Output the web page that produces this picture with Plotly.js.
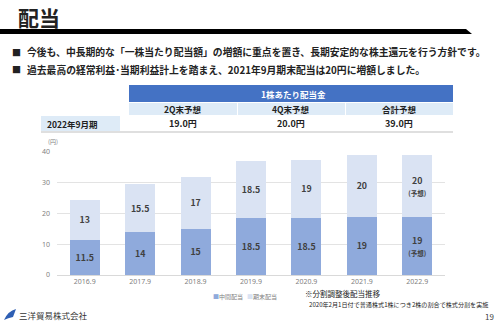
<!DOCTYPE html>
<html><head><meta charset="utf-8">
<script src="https://cdn.plot.ly/plotly-3.0.1.min.js"></script>
<style>html,body{margin:0;padding:0;background:#fff}#chart{width:500px;height:324px}</style>
</head><body><div id="chart"></div>
<script>
const categories = ['2016.9','2017.9','2018.9','2019.9','2020.9','2021.9','2022.9'];
const interim = [11.5,14,15,18.5,18.5,19,19];
const yearEnd = [13,15.5,17,18.5,19,20,20];
const interimLabels = ['11.5','14','15','18.5','18.5','19','19<br><span style="font-size:6.5px">(予想)</span>'];
const yearEndLabels = ['13','15.5','17','18.5','19','20','20<br><span style="font-size:6.5px">(予想)</span>'];
const seriesNames = ['中間配当','期末配当'];
const yTicks = [0,10,20,30,40];
const tableHeader = '1株あたり配当金';
const tableCols = ['2Q末予想','4Q末予想','合計予想'];
const tableRowLabel = '2022年9月期';
const tableRow = ['19.0円','20.0円','39.0円'];
const bullets = ['今後も、中長期的な「一株当たり配当額」の増額に重点を置き、長期安定的な株主還元を行う方針です。',
                 '過去最高の経常利益･当期利益計上を踏まえ、2021年9月期末配当は20円に増額しました。'];

const W=500,H=324;
const px=x=>x/W, py=y=>1-y/H;
const JP='"Noto Sans CJK JP", "Noto Sans", sans-serif';
const C1='#8faadc', C2='#dae3f3';

const tf={family:JP,size:8.8,color:'#404040',weight:'bold'};
const traces=[
 {type:'bar',x:categories,y:interim,name:seriesNames[0],marker:{color:C1},text:interimLabels,
  textposition:'inside',insidetextanchor:'middle',textangle:0,textfont:tf,hoverinfo:'skip',constraintext:'none'},
 {type:'bar',x:categories,y:yearEnd,name:seriesNames[1],marker:{color:C2},text:yearEndLabels,
  textposition:'inside',insidetextanchor:'middle',textangle:0,textfont:tf,hoverinfo:'skip',constraintext:'none'}
];

const shapes=[];
const ann=[];
function rect(x0,y0,x1,y1,color){shapes.push({type:'rect',xref:'paper',yref:'paper',x0:px(x0),x1:px(x1),y0:py(y1),y1:py(y0),fillcolor:color,line:{width:0},layer:'below'});}
function line(x0,y0,x1,y1,color,w){shapes.push({type:'line',xref:'paper',yref:'paper',x0:px(x0),x1:px(x1),y0:py(y0),y1:py(y1),line:{color:color,width:w}});}
function text(t,x,y,o){ann.push(Object.assign({text:t,xref:'paper',yref:'paper',x:px(x),y:py(y),showarrow:false,xanchor:'left',yanchor:'middle',
  font:{family:JP,size:9,color:'#222'}},o||{}));}

// Title and rule
text('配当',17,1,{yanchor:'top',borderpad:0,font:{family:JP,size:21,color:'#222',weight:'bold'}});
shapes.push({type:'path',xref:'paper',yref:'paper',
  path:`M ${px(0)} ${py(29)} L ${px(466)} ${py(29)} L ${px(472)} ${py(34)} L ${px(0)} ${py(34)} Z`,
  fillcolor:'#000',line:{width:0}});

// Bullets
bullets.forEach((b,i)=>{
  const y=52+i*18;
  text('■',10,y,{font:{family:JP,size:9,color:'#222'}});
  text(b,25,y,{font:{family:JP,size:9.8,color:'#222',weight:'bold'}});
});

// Table
rect(129,85,453,102,'#4472c4');
text(tableHeader,259,94,{font:{family:JP,size:8.5,color:'#fff',weight:'bold'}});
const colX=[129,237,345,453];
for(let i=0;i<3;i++){
  rect(colX[i]+(i?1:0),103,colX[i+1],115,'#deebf7');
  text(tableCols[i],(colX[i]+colX[i+1])/2,109,{xanchor:'center',font:{family:JP,size:8.5,color:'#222',weight:'bold'}});
  text(tableRow[i],(colX[i]+colX[i+1])/2,124,{xanchor:'center',font:{family:JP,size:9,color:'#222',weight:'bold'}});
}
rect(41,116,120,131,'#deebf7');
text(tableRowLabel,45,124,{font:{family:JP,size:8.5,color:'#222',weight:'bold'}});
line(41,132,453,132,'#bfbfbf',1.2);

// unit
text('(円)',46,142,{font:{family:JP,size:6,color:'#7f7f7f'}});

// legend
text('<span style="color:'+C1+'">■</span>'+seriesNames[0],211,296,{font:{family:JP,size:6,color:'#7f7f7f'}});
text('<span style="color:'+C2+'">■</span>'+seriesNames[1],245,296,{font:{family:JP,size:6,color:'#7f7f7f'}});

// notes
text('※分割調整後配当推移',303,293,{font:{family:JP,size:7.5,color:'#222'}});
text('2020年2月1日付で普通株式1株につき2株の割合で株式分割を実施',307,304,{font:{family:JP,size:6.1,color:'#222'}});
text('19',496,316,{xanchor:'right',font:{family:JP,size:8,color:'#404040'}});

// logo
shapes.push({type:'path',xref:'paper',yref:'paper',
  path:`M ${px(4)} ${py(320)} Q ${px(8)} ${py(311)} ${px(16)} ${py(309)} L ${px(13)} ${py(317)} Q ${px(8)} ${py(318)} ${px(4)} ${py(320)} Z`,
  fillcolor:'#2f5fb3',line:{width:0}});
text('三洋貿易株式会社',17,315,{font:{family:JP,size:8.5,color:'#333'}});

const layout={
 width:W,height:H,margin:{l:0,r:0,t:0,b:0},paper_bgcolor:'#fff',plot_bgcolor:'#fff',
 barmode:'stack',bargap:0.46,showlegend:false,
 xaxis:{domain:[57/W,445/W],type:'category',tickfont:{family:'"Noto Sans", sans-serif',size:7,color:'#7f7f7f'},
   showgrid:false,showline:true,linecolor:'#d9d9d9',ticks:'',fixedrange:true},
 yaxis:{domain:[(H-275)/H,(H-152)/H],range:[0,40],tickvals:yTicks,ticks:'',showline:false,zeroline:false,
   gridcolor:'#e3e3e3',tickfont:{family:'"Noto Sans", sans-serif',size:7,color:'#7f7f7f'},ticklabelstandoff:6},
 shapes:shapes,annotations:ann,
 uniformtext:{mode:false}
};
Plotly.newPlot('chart',traces,layout,{staticPlot:true});
</script></body></html>
